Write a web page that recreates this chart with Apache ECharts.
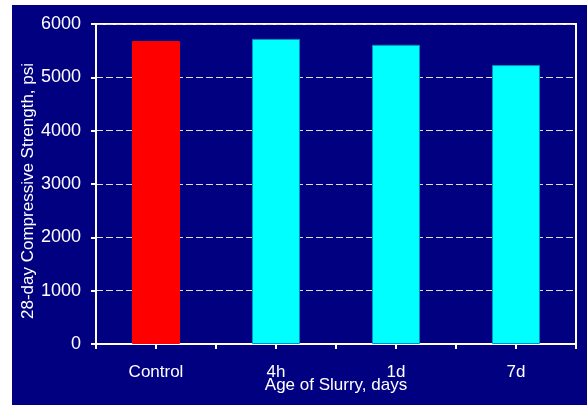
<!DOCTYPE html>
<html>
<head>
<meta charset="utf-8">
<script src="https://cdn.jsdelivr.net/npm/echarts@6/dist/echarts.min.js"></script>
<style>
  html, body { margin: 0; padding: 0; background: #ffffff; }
  #bg { position: absolute; left: 12px; top: 5px; width: 575px; height: 400px; background: #000080; }
  #chart { position: absolute; left: 0; top: 0; width: 587px; height: 409px; }
</style>
</head>
<body>
<div id="bg"></div>
<div id="chart"></div>
<script>
const categories = ['Control', '4h', '1d', '7d'];
const strengths = [5680, 5720, 5610, 5230];
const barColors = ['#ff0000', '#00ffff', '#00ffff', '#00ffff'];
const yTicks = [0, 1000, 2000, 3000, 4000, 5000, 6000];

const FONT = '"Liberation Sans", Arial, sans-serif';
const chart = echarts.init(document.getElementById('chart'), null, { renderer: 'canvas' });
chart.setOption({
  backgroundColor: 'transparent',
  animation: false,
  textStyle: { fontFamily: FONT },
  grid: { left: 96, right: 11, top: 24, bottom: 65, show: true, borderColor: '#ffffff', borderWidth: 2, backgroundColor: 'transparent' },
  xAxis: [{
    type: 'category',
    data: categories,
    name: 'Age of Slurry, days',
    nameLocation: 'middle',
    nameGap: 33,
    nameMoveOverlap: false,
    nameTextStyle: { color: '#ffffff', fontSize: 17, fontFamily: FONT },
    axisLine: { lineStyle: { color: '#ffffff', width: 2 } },
    axisTick: { show: false },
    axisLabel: { color: '#ffffff', fontSize: 17, fontFamily: FONT, margin: 20 }
  }, {
    type: 'value',
    position: 'bottom',
    min: 0, max: categories.length * 2, interval: 1,
    axisLine: { show: false },
    axisLabel: { show: false },
    splitLine: { show: false },
    axisTick: { show: true, length: 5, lineStyle: { color: '#ffffff', width: 2 } }
  }],
  yAxis: {
    type: 'value',
    min: yTicks[0], max: yTicks[yTicks.length - 1], interval: 1000,
    name: '28-day Compressive Strength, psi',
    nameLocation: 'middle',
    nameGap: 59,
    nameMoveOverlap: false,
    nameTextStyle: { color: '#ffffff', fontSize: 17, fontFamily: FONT, padding: [0, 14, 0, 0] },
    axisLine: { show: true, lineStyle: { color: '#ffffff', width: 2 } },
    axisTick: { show: true, length: 5, lineStyle: { color: '#ffffff', width: 2 } },
    axisLabel: { color: '#ffffff', fontSize: 18, fontFamily: FONT, margin: 15, formatter: v => String(v) },
    splitLine: { show: true, lineStyle: { color: '#e0e0e0', type: [7, 3], width: 1 } }
  },
  series: [{
    type: 'bar',
    xAxisIndex: 0,
    barWidth: '40%',
    data: strengths.map((v, i) => ({
      value: v,
      itemStyle: { color: barColors[i], borderColor: i === 0 ? '#ff0000' : '#0090c8', borderWidth: 1 }
    }))
  }]
});
</script>
</body>
</html>
